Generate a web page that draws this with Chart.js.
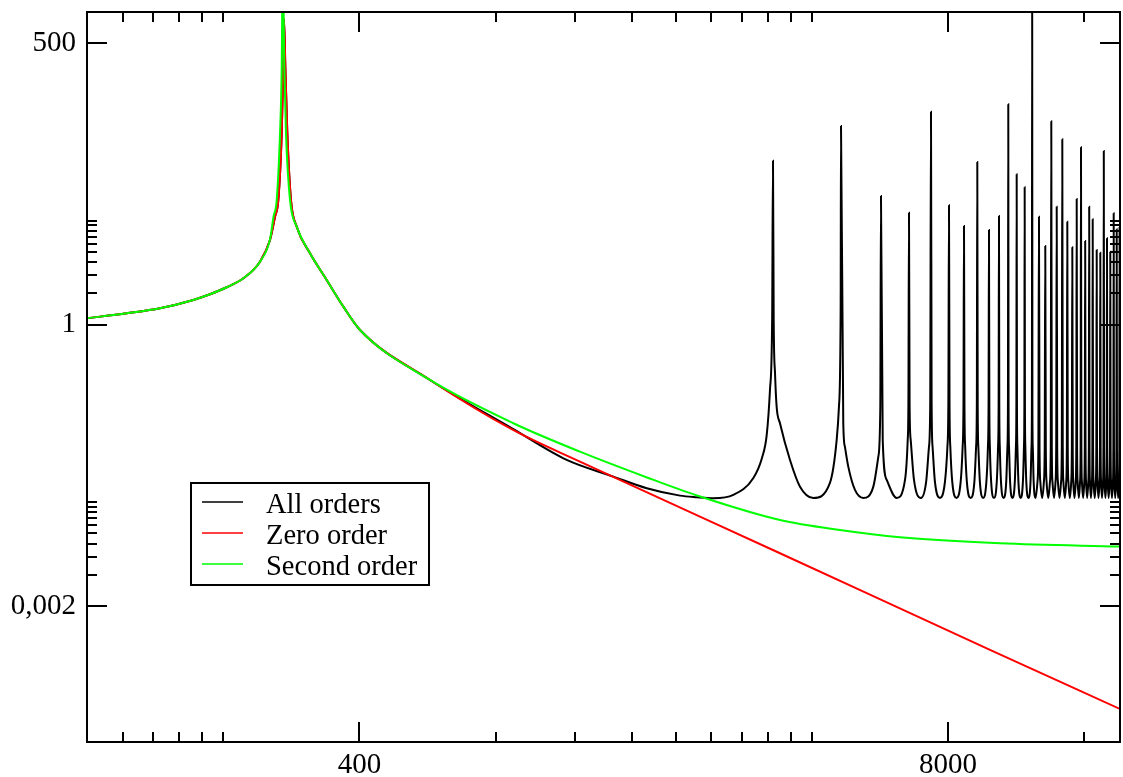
<!DOCTYPE html>
<html>
<head>
<meta charset="utf-8">
<script src="https://cdn.jsdelivr.net/npm/chart.js@4.4.0/dist/chart.umd.min.js"></script>
<style>
  html, body { margin: 0; padding: 0; background: #fff; }
  #wrap { width: 1123px; height: 777px; }
</style>
</head>
<body>
<div id="wrap"><canvas id="Chart" width="1123" height="777"></canvas></div>
<script>
// axis ticks (log axes, majors labelled)
var xTickValues = [400, 8000];
var xTickLabels = ['400', '8000'];
var xMinorTicks = [120, 140, 160, 180, 200, 800, 1200, 1600, 2000, 2400, 2800, 3200, 3600, 4000, 16000];
var yTickValues = [0.002, 1, 500];
var yTickLabels = ['0,002', '1', '500'];
var yMinorTicks = [0.004, 0.006, 0.008, 0.01, 0.012, 0.014, 0.016, 0.018, 0.02, 2, 3, 4, 5, 6, 7, 8, 9, 10];

var seriesNames = ['All orders', 'Zero order', 'Second order'];

// All orders: smooth part up to the first oscillation
var allX = [100, 122.4, 145, 171.8, 187, 203.6, 221.6, 241.2, 253.8, 260.4, 264.8, 269.4, 271.6, 272.6, 274.4, 277.2, 282.4, 290.8, 311.1, 338.7, 368.7, 401.3, 573.1, 875.7, 1149, 1457, 1727, 2046, 2227, 2424, 2683];
var allY = [1.157, 1.292, 1.443, 1.733, 1.965, 2.294, 2.797, 4.035, 6.516, 10.9, 15.76, 69.17, 298.9, 851, 298.9, 69.17, 15.76, 8.74, 4.859, 2.695, 1.494, 0.8935, 0.2962, 0.1, 0.05067, 0.03504, 0.02713, 0.02304, 0.02224, 0.02176, 0.02339];

// All orders: resonance peaks, troughs between them, and flank points
var peakX = [3283, 4641, 5688, 6560, 7337, 8041, 8679, 9287, 9856, 10370, 10873, 11348, 11819, 12279, 12711, 13126, 13534, 13912, 14314, 14683, 15062, 15402, 15743, 16082, 16414, 16709, 17052, 17368, 17680, 17970, 18274, 18594, 18880, 19160];
var peakY = [37.52, 80.72, 17.21, 11.91, 110.7, 14.02, 8.878, 36.46, 8.127, 11.07, 130.3, 27.79, 20.86, 2000, 10.9, 5.707, 89.55, 13.59, 60.18, 9.76, 5.546, 16.11, 50.44, 6.375, 13.59, 10.29, 5.226, 4.922, 46.48, 6.766, 5.033, 11.75, 8.253, 8.684];
var troughX = [4030, 5199, 6161, 6973, 7681, 8354, 8980, 9568, 10111, 10622, 11108, 11582, 12052, 12495, 12918, 13330, 13723, 14113, 14498, 14872, 15232, 15572, 15912, 16248, 16561, 16880, 17210, 17524, 17825, 18122, 18434, 18737, 19020, 19300];
var troughY = [0.0219, 0.0219, 0.0219, 0.0219, 0.0219, 0.0219, 0.0219, 0.0219, 0.0219, 0.0219, 0.0219, 0.0219, 0.0219, 0.0219, 0.0219, 0.0219, 0.0219, 0.0219, 0.0219, 0.0219, 0.0219, 0.0219, 0.0219, 0.0219, 0.0219, 0.0219, 0.0219, 0.0219, 0.0219, 0.0219, 0.0219, 0.0219, 0.0219, 0.0219];
var flankX = [
  2971, 3104, 3180, 3233, 3269, 3295, 3317, 3345, 3402, 3580, 3767,
  4387, 4540, 4593, 4633, 4695, 4735, 4816, 4983,
  5471, 5612, 5669, 5739, 5857,
  6428, 6517, 6540, 6580, 6617, 6729,
  7158, 7262, 7308, 7361, 7397, 7486,
  7877, 7976, 8015, 8063, 8096, 8176,
  8533, 8619, 8656, 8700, 8732, 8807,
  9150, 9230, 9265, 9306, 9337, 9410,
  9726, 9803, 9835, 9874, 9901, 9966,
  10254, 10322, 10352, 10387, 10414, 10478,
  10760, 10826, 10855, 10889, 10915, 10975,
  11241, 11304, 11331, 11364, 11390, 11450,
  11713, 11776, 11802, 11835, 11860, 11918,
  12176, 12237, 12263, 12294, 12317, 12373,
  12614, 12672, 12748, 12801,
  13033, 13088, 13162, 13214,
  13443, 13497, 13568, 13616,
  13828, 13877, 13947, 13999,
  14224, 14278, 14347, 14394,
  14601, 14649, 14717, 14765,
  14978, 15028, 15093, 15136,
  15326, 15371, 15433, 15477,
  15667, 15712, 15773, 15817,
  16007, 16051, 16111, 16154,
  16340, 16384, 16441, 16478,
  16644, 16682, 16740, 16784,
  16976, 17021, 17080, 17121,
  17298, 17340, 17396, 17436,
  17611, 17651, 17706, 17743,
  17906, 17943, 17997, 18037,
  18206, 18246, 18303, 18344,
  18523, 18565, 18619, 18656,
  18817, 18854, 18905, 18942,
  19098, 19135, 19185, 19222
];
var flankY = [
  0.03404, 0.05295, 0.08799, 0.2375, 1.114, 1.114, 0.3457, 0.1632, 0.1139, 0.05067, 0.0281,
  0.03049, 0.07876, 0.1643, 1.494, 0.1147, 0.06753, 0.04369, 0.02612,
  0.0281, 0.0545, 0.1643, 0.07876, 0.03258,
  0.03258, 0.07876, 0.171, 0.171, 0.07876, 0.03258,
  0.0312, 0.0675, 0.171, 0.171, 0.0675, 0.0312,
  0.0312, 0.0675, 0.171, 0.171, 0.0675, 0.0312,
  0.0312, 0.0675, 0.171, 0.171, 0.0675, 0.0312,
  0.0312, 0.0675, 0.171, 0.171, 0.0675, 0.0312,
  0.0312, 0.0675, 0.171, 0.171, 0.0675, 0.0312,
  0.0312, 0.0675, 0.171, 0.171, 0.0675, 0.0312,
  0.0312, 0.0675, 0.171, 0.171, 0.0675, 0.0312,
  0.0312, 0.0675, 0.171, 0.171, 0.0675, 0.0312,
  0.0312, 0.0675, 0.171, 0.171, 0.0675, 0.0312,
  0.0312, 0.0675, 0.171, 0.171, 0.0675, 0.0312,
  0.0312, 0.0675, 0.0675, 0.0312,
  0.0312, 0.0675, 0.0675, 0.0312,
  0.0312, 0.0675, 0.0675, 0.0312,
  0.0312, 0.0675, 0.0675, 0.0312,
  0.0312, 0.0675, 0.0675, 0.0312,
  0.0312, 0.0675, 0.0675, 0.0312,
  0.0312, 0.0675, 0.0675, 0.0312,
  0.0312, 0.0675, 0.0675, 0.0312,
  0.0312, 0.0675, 0.0675, 0.0312,
  0.0312, 0.0675, 0.0675, 0.0312,
  0.0312, 0.0675, 0.0675, 0.0312,
  0.0312, 0.0675, 0.0675, 0.0312,
  0.0312, 0.0675, 0.0675, 0.0312,
  0.0312, 0.0675, 0.0675, 0.0312,
  0.0312, 0.0675, 0.0675, 0.0312,
  0.0312, 0.0675, 0.0675, 0.0312,
  0.0312, 0.0675, 0.0675, 0.0312,
  0.0312, 0.0675, 0.0675, 0.0312,
  0.0312, 0.0675, 0.0675, 0.0312,
  0.0312, 0.0675, 0.0675, 0.0312
];

// Zero order
var zeroX = [100, 122.4, 145, 171.8, 187, 203.6, 221.6, 241.2, 253.8, 260.4, 264.8, 269.4, 271.6, 272.6, 274.4, 277.2, 282.4, 290.8, 311.1, 338.7, 368.7, 401.3, 573.1, 874.3, 1229, 3402, 9907, 19400];
var zeroY = [1.157, 1.292, 1.443, 1.733, 1.965, 2.294, 2.797, 4.035, 6.516, 10.9, 15.76, 69.17, 298.9, 851, 298.9, 69.17, 15.76, 8.74, 4.859, 2.695, 1.494, 0.8935, 0.2962, 0.0982, 0.0488, 0.00646, 0.000764, 0.000203];

// Second order
var secondX = [100, 122.4, 145, 171.8, 187, 203.6, 221.6, 241.2, 253.8, 258.4, 262.6, 267.1, 269.4, 270.8, 273.0, 275.3, 281.0, 290.8, 311.1, 338.7, 368.7, 401.3, 573.1, 875.7, 1229, 1729, 2230, 3402, 4618, 6268, 10430, 19400];
var secondY = [1.157, 1.292, 1.443, 1.733, 1.965, 2.294, 2.797, 4.035, 6.6, 10.9, 15.76, 69.17, 298.9, 3000, 298.9, 69.17, 15.76, 8.74, 4.859, 2.695, 1.494, 0.8935, 0.2962, 0.1139, 0.06084, 0.03442, 0.02313, 0.01347, 0.0108, 0.009197, 0.008054, 0.007469];

function pairs(xs, ys) {
  return xs.map(function (x, i) { return { x: x, y: ys[i] }; });
}

var allPoints = pairs(allX, allY)
  .concat(pairs(peakX, peakY), pairs(troughX, troughY), pairs(flankX, flankY))
  .sort(function (a, b) { return a.x - b.x; });

function tickList(majors, minors) {
  return majors.map(function (v) { return { value: v, major: true }; })
    .concat(minors.map(function (v) { return { value: v, major: false }; }))
    .sort(function (a, b) { return a.value - b.value; });
}

// inward ticks on all four sides + frame
var frameTicks = {
  id: 'frameTicks',
  afterDatasetsDraw: function (chart) {
    var ctx = chart.ctx, a = chart.chartArea;
    var xs = chart.scales.x, ys = chart.scales.y;
    ctx.save();
    ctx.strokeStyle = '#000';
    ctx.lineWidth = 2;
    ctx.beginPath();
    xs.ticks.forEach(function (t) {
      var p = Math.round(xs.getPixelForValue(t.value));
      var len = t.major ? 20 : 10;
      ctx.moveTo(p, a.bottom); ctx.lineTo(p, a.bottom - len);
      ctx.moveTo(p, a.top); ctx.lineTo(p, a.top + len);
    });
    ys.ticks.forEach(function (t) {
      var p = Math.round(ys.getPixelForValue(t.value));
      var len = t.major ? 20 : 10;
      ctx.moveTo(a.left, p); ctx.lineTo(a.left + len, p);
      ctx.moveTo(a.right, p); ctx.lineTo(a.right - len, p);
    });
    ctx.stroke();
    ctx.strokeRect(a.left, a.top, a.right - a.left, a.bottom - a.top);
    ctx.restore();
  }
};

// boxed legend inside the plot
var boxLegend = {
  id: 'boxLegend',
  afterDraw: function (chart) {
    var ctx = chart.ctx;
    ctx.save();
    ctx.fillStyle = '#fff';
    ctx.fillRect(191, 483, 238, 102);
    ctx.strokeStyle = '#000';
    ctx.lineWidth = 2;
    ctx.strokeRect(191, 483, 238, 102);
    ctx.font = '28.5px "Liberation Serif"';
    ctx.textBaseline = 'alphabetic';
    chart.data.datasets.forEach(function (ds, i) {
      var y = 502 + i * 31;
      ctx.strokeStyle = ds.borderColor;
      ctx.lineWidth = 1.5;
      ctx.beginPath();
      ctx.moveTo(202, y);
      ctx.lineTo(243, y);
      ctx.stroke();
      ctx.fillStyle = '#000';
      ctx.fillText(ds.label, 266, y + 10.5);
    });
    ctx.restore();
  }
};

document.addEventListener('DOMContentLoaded', function () {
  var ctx = document.getElementById('Chart').getContext('2d');
  Chart.defaults.font.family = '"Liberation Serif", "Times New Roman", serif';
  Chart.defaults.color = '#000';

  var myChart = new Chart(ctx, {
    type: 'line',
    data: {
      datasets: [{
        label: seriesNames[0],
        data: allPoints,
        borderColor: '#000000',
        borderWidth: 2,
        order: 3
      }, {
        label: seriesNames[1],
        data: pairs(zeroX, zeroY),
        borderColor: '#ff0000',
        borderWidth: 2,
        order: 2
      }, {
        label: seriesNames[2],
        data: pairs(secondX, secondY),
        borderColor: '#00ff00',
        borderWidth: 2,
        order: 1
      }]
    },
    options: {
      responsive: false,
      devicePixelRatio: 1,
      animation: false,
      layout: { padding: { top: 12, right: 3, left: 0, bottom: 0 } },
      elements: {
        point: { radius: 0, hoverRadius: 0 },
        line: { cubicInterpolationMode: 'monotone', fill: false }
      },
      plugins: {
        legend: { display: false },
        tooltip: { enabled: false }
      },
      scales: {
        x: {
          type: 'logarithmic',
          min: 100,
          max: 19200,
          grid: { display: false, drawTicks: false },
          border: { display: false },
          afterBuildTicks: function (scale) {
            scale.ticks = tickList(xTickValues, xMinorTicks);
          },
          afterFit: function (scale) {
            scale.height = 35;
            scale.paddingLeft = 0;
            scale.paddingRight = 0;
          },
          ticks: {
            autoSkip: false,
            maxRotation: 0,
            padding: 6,
            font: { size: 29 },
            callback: function (value) {
              var i = xTickValues.indexOf(value);
              return i >= 0 ? xTickLabels[i] : '';
            }
          }
        },
        y: {
          type: 'logarithmic',
          min: 0.0001,
          max: 1000,
          grid: { display: false, drawTicks: false },
          border: { display: false },
          afterBuildTicks: function (scale) {
            scale.ticks = tickList(yTickValues, yMinorTicks);
          },
          afterFit: function (scale) {
            scale.width = 87;
            scale.paddingTop = 0;
            scale.paddingBottom = 0;
          },
          ticks: {
            autoSkip: false,
            padding: 11,
            font: { size: 29 },
            callback: function (value) {
              var i = yTickValues.indexOf(value);
              return i >= 0 ? yTickLabels[i] : '';
            }
          }
        }
      }
    },
    plugins: [frameTicks, boxLegend]
  });
});
</script>
</body>
</html>
